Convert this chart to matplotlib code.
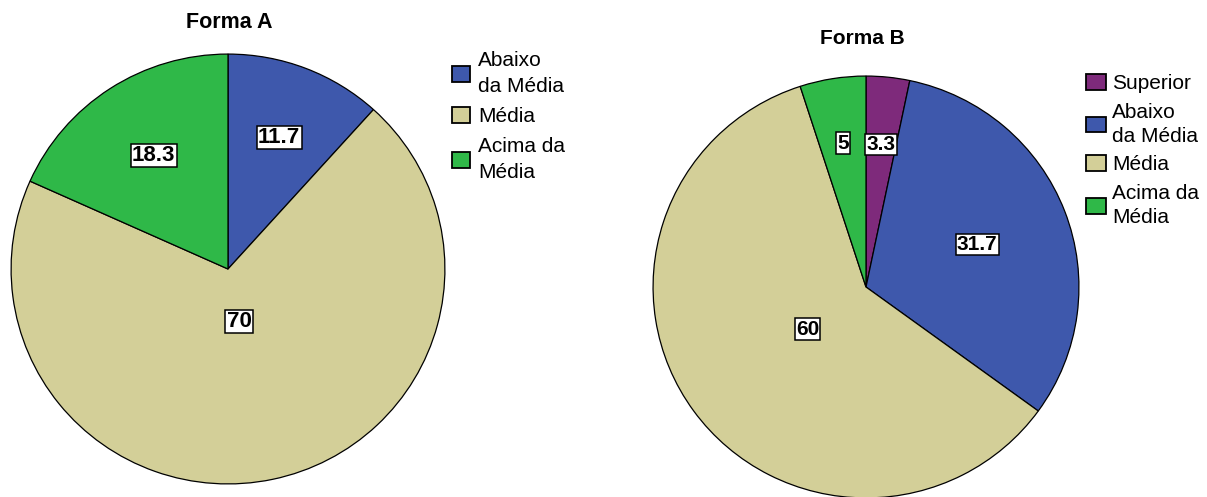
import numpy as np
import matplotlib
matplotlib.use("Agg")
import matplotlib.pyplot as plt
from matplotlib.patches import Patch

# ==== dados ====
cats_a = ["Abaixo\nda Média", "Média", "Acima da\nMédia"]
vals_a = [11.7, 70, 18.3]
rotulos_a = ["11.7", "70", "18.3"]

cats_b = ["Superior", "Abaixo\nda Média", "Média", "Acima da\nMédia"]
vals_b = [3.3, 31.7, 60, 5]
rotulos_b = ["3.3", "31.7", "60", "5"]

cor = {"Superior": "#7E2A7B", "Abaixo\nda Média": "#3E58AC",
       "Média": "#D3CF98", "Acima da\nMédia": "#2FB848"}

# distância radial de cada rótulo (fração do raio)
dist_a = [0.655, 0.25, 0.63]
dist_b = [0.68, 0.56, 0.34, 0.69]

fonte = ["Liberation Sans", "DejaVu Sans"]

W, H = 1207, 497
fig = plt.figure(figsize=(W / 100, H / 100), dpi=100)


def desenha_pizza(rect, cats, vals, rotulos, dists, fsize):
    ax = fig.add_axes(rect)
    wedges, _ = ax.pie(vals, colors=[cor[c] for c in cats], startangle=90,
                       counterclock=False, radius=1,
                       wedgeprops=dict(edgecolor="black", linewidth=0.9))
    for w, txt, d in zip(wedges, rotulos, dists):
        ang = np.radians((w.theta1 + w.theta2) / 2)
        ax.text(d * np.cos(ang), d * np.sin(ang), txt, ha="center", va="center",
                fontsize=fsize, fontweight="bold", family=fonte,
                bbox=dict(boxstyle="square,pad=0.06", facecolor="white",
                          edgecolor="black", linewidth=1.1))
    ax.set_xlim(-1.005, 1.005)
    ax.set_ylim(-1.005, 1.005)
    ax.set_aspect("auto")
    ax.axis("off")
    return ax


# Forma A: centro (228, 269)
desenha_pizza([10 / W, (H - 485) / H, 436 / W, 432 / H],
              cats_a, vals_a, rotulos_a, dist_a, 16)
# Forma B: centro (866, 287)
desenha_pizza([652 / W, (H - 499) / H, 428 / W, 424 / H],
              cats_b, vals_b, rotulos_b, dist_b, 15)

fig.text(229 / W, 1 - 23 / H, "Forma A", ha="center", va="center",
         fontsize=15.5, fontweight="bold", family=fonte)
fig.text(862 / W, 1 - 38 / H, "Forma B", ha="center", va="center",
         fontsize=15, fontweight="bold", family=fonte)

# Legendas
h_a = [Patch(facecolor=cor[c], edgecolor="black", linewidth=1.3) for c in cats_a]
leg_a = fig.legend(h_a, cats_a, loc="upper left", bbox_to_anchor=(452 / W, 1 - 51 / H),
                   frameon=False, prop=dict(family=fonte, size=15),
                   handlelength=0.85, handleheight=0.8, handletextpad=0.4,
                   labelspacing=0.5, borderaxespad=0, borderpad=0)
for t in leg_a.get_texts():
    t.set_linespacing(1.5)

h_b = [Patch(facecolor=cor[c], edgecolor="black", linewidth=1.3) for c in cats_b]
leg_b = fig.legend(h_b, cats_b, loc="upper left", bbox_to_anchor=(1086 / W, 1 - 74 / H),
                   frameon=False, prop=dict(family=fonte, size=15),
                   handlelength=0.95, handleheight=0.8, handletextpad=0.3,
                   labelspacing=0.45, borderaxespad=0, borderpad=0)
for t in leg_b.get_texts():
    t.set_linespacing(1.35)

fig.savefig("out.png", dpi=100)
